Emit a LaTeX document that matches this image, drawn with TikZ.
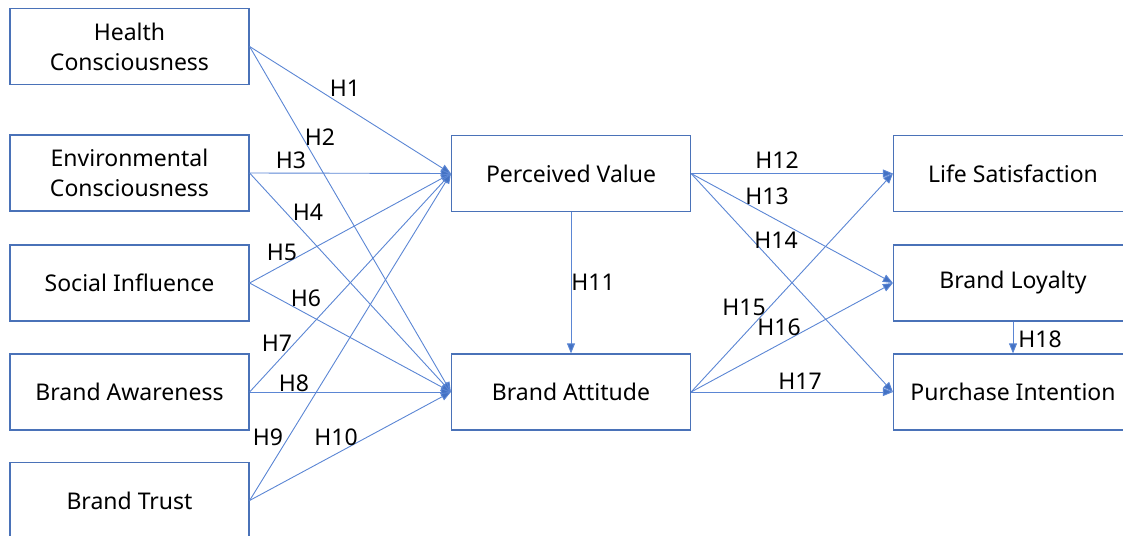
\documentclass[tikz,border=0pt]{standalone}
\usepackage{fontspec}
\setmainfont{Noto Sans}
\usetikzlibrary{arrows.meta}
\definecolor{boxblue}{HTML}{4A72B8}
\definecolor{lineblue}{HTML}{5B86D4}
\definecolor{tipblue}{HTML}{4472C4}
\tikzset{
  box/.style={draw=boxblue, line width=1.2pt, minimum width=239pt, minimum height=76pt, align=center, inner sep=0pt, font=\fontsize{23}{30}\selectfont},
  link/.style={draw=lineblue, line width=0.9pt, -{Triangle[length=10pt,width=8pt,fill=tipblue]}},
  lab/.style={inner sep=0pt, font=\fontsize{23}{25}\selectfont}
}
\begin{document}
\begin{tikzpicture}[x=1pt,y=-1pt]
\useasboundingbox (0,0) rectangle (1123,535);
\clip (0,0) rectangle (1123,535);
\node[box] (hc) at (129.5,46.5) {Health\\Consciousness};
\node[box] (ec) at (129.5,173) {Environmental\\Consciousness};
\node[box] (si) at (129.5,283) {Social Influence};
\node[box] (ba) at (129.5,392) {Brand Awareness};
\node[box] (bt) at (129.5,500.5) {Brand Trust};
\node[box] (pv) at (571,173.5) {Perceived Value};
\node[box] (bat) at (571,392) {Brand Attitude};
\node[box] (ls) at (1013,173.5) {Life Satisfaction};
\node[box] (bl) at (1013,283) {Brand Loyalty};
\node[box] (pi) at (1013,392) {Purchase Intention};

\draw[link] (hc.east) -- (pv.west);
\draw[link] (hc.east) -- (bat.west);
\draw[link] (ec.east) -- (pv.west);
\draw[link] (ec.east) -- (bat.west);
\draw[link] (si.east) -- (pv.west);
\draw[link] (si.east) -- (bat.west);
\draw[link] (ba.east) -- (pv.west);
\draw[link] (ba.east) -- (bat.west);
\draw[link] (bt.east) -- (pv.west);
\draw[link] (bt.east) -- (bat.west);
\draw[link] (pv.south) -- (bat.north);
\draw[link] (pv.east) -- (ls.west);
\draw[link] (pv.east) -- (bl.west);
\draw[link] (pv.east) -- (pi.west);
\draw[link] (bat.east) -- (ls.west);
\draw[link] (bat.east) -- (bl.west);
\draw[link] (bat.east) -- (pi.west);
\draw[link] (bl.south) -- (pi.north);

\node[lab] (h1) at (345,88) {H1};
\node[lab] (h2) at (320,137) {H2};
\node[lab] (h3) at (291,160) {H3};
\node[lab] (h4) at (308,212) {H4};
\node[lab] (h5) at (282,252) {H5};
\node[lab] (h6) at (306,298) {H6};
\node[lab] (h7) at (277,343) {H7};
\node[lab] (h8) at (294,383) {H8};
\node[lab] (h9) at (268,437) {H9};
\node[lab] (h10) at (336,437) {H10};
\node[lab] (h11) at (593,282) {H11};
\node[lab] (h12) at (777,160) {H12};
\node[lab] (h13) at (767,196) {H13};
\node[lab] (h14) at (776,240) {H14};
\node[lab] (h15) at (744,307) {H15};
\node[lab] (h16) at (779,327) {H16};
\node[lab] (h17) at (800,381) {H17};
\node[lab] (h18) at (1040,339) {H18};
\end{tikzpicture}
\end{document}
